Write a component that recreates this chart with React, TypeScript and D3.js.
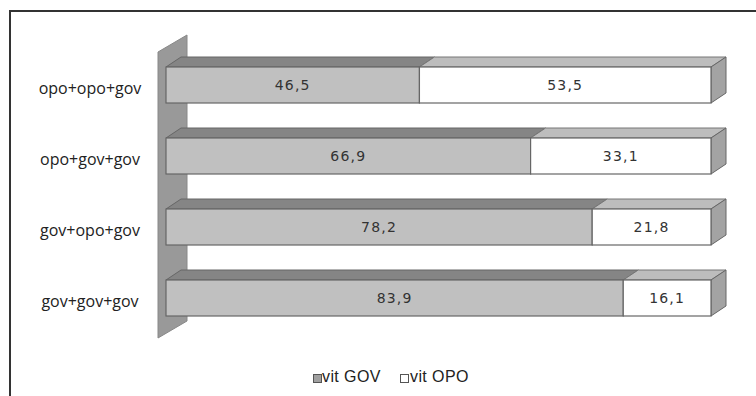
import React from 'react';
import * as d3 from 'd3';

const categories = ['opo+opo+gov', 'opo+gov+gov', 'gov+opo+gov', 'gov+gov+gov'];
const govValues = [46.5, 66.9, 78.2, 83.9];
const opoValues = [53.5, 33.1, 21.8, 16.1];
const seriesNames = ['vit GOV', 'vit OPO'];

const W = 756;
const H = 396;

const fmt = (v: number) => v.toFixed(1).replace('.', ',');

export default function App() {
  const x = d3.scaleLinear().domain([0, 100]).range([166, 711]);
  const y = d3.scaleBand<string>()
    .domain(categories)
    .range([49.5, 333.5])
    .paddingInner(0.493)
    .paddingOuter(0.2465);

  // bar depth and wall depth (3D offsets)
  const dx = 15, dy = -10;
  const wdx = 29, wdy = -17;
  const wallX = 158, wallTop = 52, wallBottom = 338;

  const poly = (pts: [number, number][]) => pts.map(p => p.join(',')).join(' ');
  const valueFont = "'DejaVu Sans', Verdana, sans-serif";

  return (
    <svg width={W} height={H} style={{ position: 'absolute', left: 0, top: 0, background: '#fff' }}>
      <rect x={10} y={11} width={W + 10} height={H + 10} fill="#fff" stroke="#333" strokeWidth={2} />

      {/* left wall */}
      <polygon
        points={poly([[wallX, wallTop], [wallX + wdx, wallTop + wdy], [wallX + wdx, wallBottom + wdy], [wallX, wallBottom]])}
        fill="#999" stroke="#888" strokeWidth={1}
      />

      {categories.map((c, i) => {
        const yt = y(c)!;
        const yb = yt + y.bandwidth();
        const yc = (yt + yb) / 2;
        const x0 = x(0);
        const xm = x(govValues[i]);
        const x1 = x(govValues[i] + opoValues[i]);
        return (
          <g key={c}>
            <text x={90} y={yc + 9} textAnchor="middle"
              fontFamily="'Open Sans', sans-serif" fontSize={16} fill="#222">{c}</text>
            {/* top faces */}
            <polygon points={poly([[x0, yt], [x0 + dx, yt + dy], [xm + dx, yt + dy], [xm, yt]])}
              fill="#858585" stroke="#666" strokeWidth={1} />
            <polygon points={poly([[xm, yt], [xm + dx, yt + dy], [x1 + dx, yt + dy], [x1, yt]])}
              fill="#bdbdbd" stroke="#777" strokeWidth={1} />
            {/* end face */}
            <polygon points={poly([[x1, yt], [x1 + dx, yt + dy], [x1 + dx, yb + dy], [x1, yb]])}
              fill="#a3a3a3" stroke="#666" strokeWidth={1} />
            {/* front faces */}
            <rect x={x0} y={yt} width={xm - x0} height={yb - yt} fill="#c0c0c0" stroke="#666" strokeWidth={1.2} />
            <rect x={xm} y={yt} width={x1 - xm} height={yb - yt} fill="#fff" stroke="#666" strokeWidth={1.2} />
            <text x={(x0 + xm) / 2} y={yc + 5} textAnchor="middle" letterSpacing={1.2}
              fontFamily={valueFont} fontSize={14} fill="#333">{fmt(govValues[i])}</text>
            <text x={(xm + x1) / 2} y={yc + 5} textAnchor="middle" letterSpacing={1.2}
              fontFamily={valueFont} fontSize={14} fill="#333">{fmt(opoValues[i])}</text>
          </g>
        );
      })}

      {/* legend */}
      <g fontFamily="'Liberation Sans', Arial, sans-serif" fontSize={16} letterSpacing={0.4} fill="#222">
        <rect x={313.5} y={374.5} width={8} height={8} fill="#a0a0a0" stroke="#555" />
        <text x={322} y={382}>{seriesNames[0]}</text>
        <rect x={400.5} y={374.5} width={8} height={8} fill="#fff" stroke="#555" />
        <text x={410} y={382}>{seriesNames[1]}</text>
      </g>
    </svg>
  );
}
